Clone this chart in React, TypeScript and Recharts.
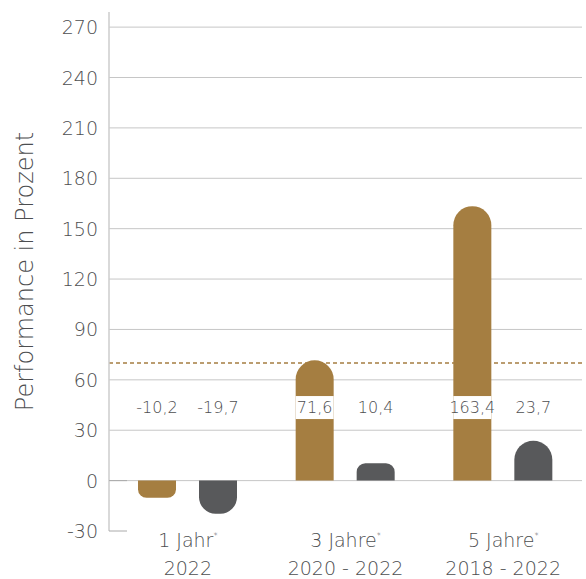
import React from 'react';
import { BarChart, Bar, XAxis, YAxis, ReferenceLine, LabelList } from 'recharts';

const categories = ['1 Jahr', '3 Jahre', '5 Jahre'];
const periods = ['2022', '2020 - 2022', '2018 - 2022'];
const fundValues = [-10.2, 71.6, 163.4];
const benchmarkValues = [-19.7, 10.4, 23.7];
const yTicks = [-30, 0, 30, 60, 90, 120, 150, 180, 210, 240, 270];
const gridValues = [0, 30, 60, 90, 120, 150, 180, 210, 240, 270];
const targetValue = 70;
const labelLevel = 43.5;

const data = categories.map((c, i) => ({
  name: c,
  period: periods[i],
  fund: fundValues[i],
  bench: benchmarkValues[i],
}));

const FONT = "'DejaVu Sans', sans-serif";
const TEXT = '#4d4e50';
const GOLD = '#a57e41';
const GREY = '#58595b';
const GRID = '#c6c6c6';

const fmt = (v: number) => v.toFixed(1).replace('.', ',');

const ValueLabel = (props: any) => {
  const vb = props.viewBox && props.viewBox.width != null ? props.viewBox : props;
  const { x, y, width, height } = vb;
  const value = Number(props.value);
  if (x == null || !value) return null;
  const top = Math.min(y, y + height);
  const bottom = Math.max(y, y + height);
  const base = value >= 0 ? bottom : top;
  const ppu = Math.abs(height) / Math.abs(value);
  const cy = base - labelLevel * ppu;
  return (
    <g>
      <rect x={x} y={cy - 11.5} width={width} height={23} fill="#ffffff" />
      <text
        x={x + width / 2}
        y={cy}
        textAnchor="middle"
        dominantBaseline="central"
        fontFamily={FONT}
        fontWeight={300}
        fontSize={16}
        fill={TEXT}
      >
        {fmt(value)}
      </text>
    </g>
  );
};

const YTick = (props: any) => {
  const { x, y, payload } = props;
  const v = payload.value;
  const axisX = x + 11;
  return (
    <g>
      {(v === 0 || v === -30) && (
        <line x1={axisX} x2={axisX + 18} y1={y} y2={y} stroke="#aaaaaa" strokeWidth={1} />
      )}
      <text
        x={x}
        y={y}
        textAnchor="end"
        dominantBaseline="central"
        fontFamily={FONT}
        fontWeight={300}
        fontSize={19}
        fill={TEXT}
      >
        {v}
      </text>
    </g>
  );
};

const XTick = (props: any) => {
  const { x, y, payload, index } = props;
  const period = periods[index] ?? data.find((d) => d.name === payload.value)?.period;
  return (
    <g>
      <text
        x={x}
        y={y + 16}
        textAnchor="middle"
        fontFamily={FONT}
        fontWeight={300}
        fontSize={19}
        fill={TEXT}
      >
        {payload.value}
        <tspan dy={-8} fontSize={8}>*</tspan>
      </text>
      <text
        x={x}
        y={y + 44}
        textAnchor="middle"
        fontFamily={FONT}
        fontWeight={300}
        fontSize={19}
        fill={TEXT}
      >
        {period}
      </text>
    </g>
  );
};

export default function App() {
  return (
    <div style={{ position: 'absolute', left: 0, top: 0, width: 586, height: 579 }}>
      <BarChart
        width={586}
        height={579}
        data={data}
        margin={{ top: 12, right: 4, bottom: 0, left: 0 }}
        barSize={38}
        barGap={23}
      >
        {gridValues.map((g) => (
          <ReferenceLine key={g} y={g} stroke={GRID} strokeWidth={1} zIndex={50} ifOverflow="visible" />
        ))}
        <ReferenceLine
          y={targetValue}
          stroke={GOLD}
          strokeWidth={1.5}
          strokeDasharray="4 3"
          zIndex={60}
        />
        <XAxis
          dataKey="name"
          axisLine={false}
          tickLine={false}
          tickSize={0}
          tickMargin={0}
          height={48}
          interval={0}
          tick={<XTick />}
        />
        <YAxis
          width={109}
          domain={[-30, 279]}
          ticks={yTicks}
          allowDataOverflow
          interval={0}
          tickLine={false}
          tickSize={6}
          tickMargin={5}
          axisLine={{ stroke: '#cccccc', strokeWidth: 1.5 }}
          tick={<YTick />}
          label={{
            value: 'Performance in Prozent',
            angle: -90,
            position: 'center',
            dx: -30,
            fontFamily: FONT,
            fontWeight: 300,
            fontSize: 24,
            fill: TEXT,
          }}
        />
        <Bar dataKey="fund" fill={GOLD} radius={[19, 19, 0, 0]} isAnimationActive={false}>
          <LabelList dataKey="fund" content={<ValueLabel />} />
        </Bar>
        <Bar dataKey="bench" fill={GREY} radius={[19, 19, 0, 0]} isAnimationActive={false}>
          <LabelList dataKey="bench" content={<ValueLabel />} />
        </Bar>
      </BarChart>
    </div>
  );
}
